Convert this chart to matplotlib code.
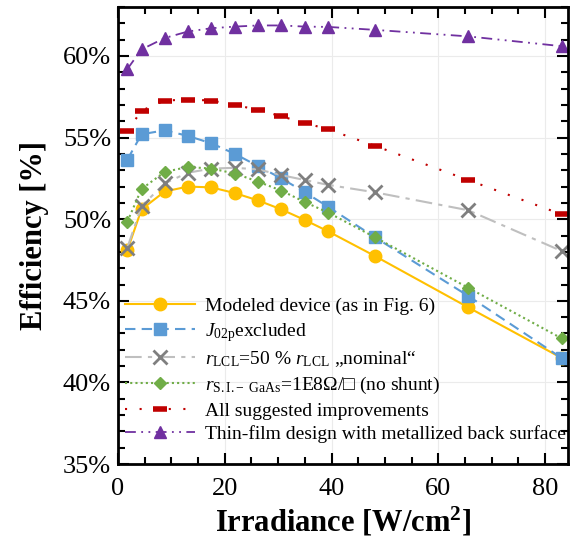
import numpy as np
import matplotlib
matplotlib.use('Agg')
import matplotlib.pyplot as plt
from matplotlib.ticker import MultipleLocator, FuncFormatter

plt.rcParams['font.family'] = ['Liberation Serif', 'DejaVu Serif']
plt.rcParams['mathtext.fontset'] = 'custom'
plt.rcParams['mathtext.rm'] = 'Liberation Serif'
plt.rcParams['mathtext.it'] = 'Liberation Serif:italic'
plt.rcParams['mathtext.bf'] = 'Liberation Serif:bold'

# Irradiance [W/cm2]
irr = [1.75, 4.4, 8.75, 13.1, 17.5, 21.9, 26.25, 30.6, 35.0, 39.4, 48.1, 65.6, 83.1]

# Efficiency [%]
eff_modeled = [48.1, 50.6, 51.7, 52.0, 51.95, 51.6, 51.15, 50.6, 49.95, 49.25, 47.75, 44.6, 41.5]
eff_j02 = [53.65, 55.2, 55.45, 55.1, 54.65, 54.0, 53.25, 52.5, 51.65, 50.75, 48.9, 45.3, 41.5]
eff_rlcl = [48.25, 50.8, 52.2, 52.85, 53.1, 53.15, 53.05, 52.7, 52.4, 52.1, 51.65, 50.55, 48.05]
eff_shunt = [49.85, 51.85, 52.9, 53.2, 53.1, 52.8, 52.3, 51.75, 51.05, 50.4, 48.9, 45.8, 42.7]
eff_all = [55.4, 56.65, 57.27, 57.33, 57.27, 57.0, 56.7, 56.3, 55.9, 55.5, 54.5, 52.4, 50.3]
eff_thin = [59.2, 60.4, 61.1, 61.5, 61.7, 61.8, 61.87, 61.87, 61.8, 61.78, 61.6, 61.2, 60.6]

labels = [
    'Modeled device (as in Fig. 6)',
    r'$J_{\mathrm{02p}}$excluded',
    r'$r_{\mathrm{LCL}}$=50 % $r_{\mathrm{LCL}}$ „nominal“',
    r'$r_{\mathrm{S.I.\!-\ GaAs}}$=1E8Ω/□ (no shunt)',
    'All suggested improvements',
    'Thin-film design with metallized back surface',
]

fig = plt.figure(figsize=(5.74, 5.39), dpi=100)
ax = fig.add_axes([0.2056, 0.139, 0.784, 0.848])

ax.plot(irr, eff_modeled, color='#FFC000', lw=1.5, ls='-', marker='o', ms=9,
        label=labels[0])
ax.plot(irr, eff_j02, color='#5B9BD5', lw=1.5, ls=(0, (5, 3)), marker='s', ms=8,
        label=labels[1])
ax.plot(irr, eff_rlcl, color='#BFBFBF', lw=1.5, ls=(0, (8, 3, 2, 3)), marker='x', ms=10,
        mec='#7F7F7F', mew=2, label=labels[2])
ax.plot(irr, eff_shunt, color='#70AD47', lw=1.5, ls=(0, (1, 1.5)), marker='D', ms=6,
        label=labels[3])
ax.plot(irr, eff_all, color='#C00000', lw=1.5, ls=(0, (1, 6)), marker='_', ms=10,
        mew=4, label=labels[4])
ax.plot(irr, eff_thin, color='#7030A0', lw=1.3, ls=(0, (6, 3, 1, 3, 1, 3)), marker='^',
        ms=9, label=labels[5])

ax.set_xlim(0, 84.3)
ax.set_ylim(35, 63)
ax.xaxis.set_major_locator(MultipleLocator(20))
ax.xaxis.set_minor_locator(MultipleLocator(5))
ax.yaxis.set_major_locator(MultipleLocator(5))
ax.yaxis.set_minor_locator(MultipleLocator(1))
ax.yaxis.set_major_formatter(FuncFormatter(lambda v, p: '%d%%' % v))
ax.tick_params(which='both', direction='in', top=True, right=True, width=1.5,
               labelsize=19)
ax.tick_params(which='major', length=8)
ax.tick_params(which='minor', length=5)
ax.tick_params(axis='x', pad=10)
ax.tick_params(axis='y', pad=5)
for s in ax.spines.values():
    s.set_linewidth(2)
ax.grid(True, which='major', color='#EBEBEB', lw=0.8)
ax.set_axisbelow(True)

ax.set_xlabel('Irradiance [W/cm$^\\mathbf{2}$]', fontsize=22, fontweight='bold', labelpad=4)
ax.set_ylabel('Efficiency [%]', fontsize=22, fontweight='bold', labelpad=10)

ax.legend(loc='lower left', bbox_to_anchor=(-0.01, 0.02), frameon=False, fontsize=14,
          handlelength=3.6, labelspacing=0.3, handletextpad=0.5, borderaxespad=0.2,
          numpoints=1)

plt.savefig('out.png', dpi=100)
